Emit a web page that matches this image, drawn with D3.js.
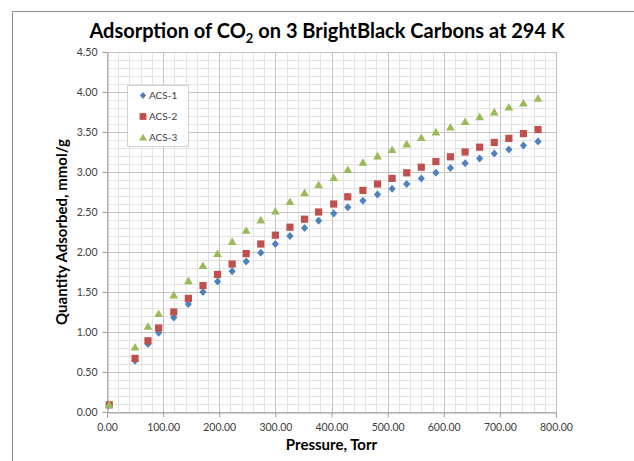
<!DOCTYPE html>
<html>
<head>
<meta charset="utf-8">
<script src="https://cdn.jsdelivr.net/npm/d3@7"></script>
<style>
  html, body { margin: 0; padding: 0; background: #fff; }
  svg { display: block; }
</style>
</head>
<body>
<svg id="chart" width="634" height="461"></svg>
<script>
// ---- data ----
const seriesNames = ["ACS-1", "ACS-2", "ACS-3"];
const pressure = [4, 50, 73, 92, 119, 145, 171, 197, 223, 248, 274, 300, 326, 352, 377, 404, 429, 456, 482, 508, 534, 560, 586, 612, 638, 664, 690, 716, 742, 768];
const acs1 = [0.09, 0.64, 0.85, 0.99, 1.18, 1.35, 1.50, 1.63, 1.76, 1.88, 1.99, 2.10, 2.20, 2.30, 2.39, 2.48, 2.56, 2.64, 2.72, 2.79, 2.85, 2.92, 2.99, 3.05, 3.11, 3.17, 3.23, 3.28, 3.33, 3.38];
const acs2 = [0.09, 0.67, 0.89, 1.05, 1.25, 1.42, 1.58, 1.72, 1.85, 1.98, 2.10, 2.21, 2.31, 2.41, 2.50, 2.60, 2.69, 2.77, 2.85, 2.92, 2.99, 3.06, 3.13, 3.19, 3.25, 3.31, 3.37, 3.42, 3.48, 3.53];
const acs3 = [0.09, 0.81, 1.07, 1.23, 1.46, 1.64, 1.83, 1.98, 2.13, 2.27, 2.40, 2.51, 2.63, 2.74, 2.84, 2.93, 3.03, 3.12, 3.20, 3.28, 3.35, 3.43, 3.50, 3.56, 3.63, 3.69, 3.75, 3.81, 3.86, 3.92];
const xTicks = [0, 100, 200, 300, 400, 500, 600, 700, 800];
const yTicks = [0, 0.5, 1.0, 1.5, 2.0, 2.5, 3.0, 3.5, 4.0, 4.5];

// ---- layout ----
const W = 634, H = 461;
const plot = { left: 107, top: 52, right: 556, bottom: 412 };
const colors = ["#4F81BD", "#C0504D", "#9BBB59"];
const font = "Lato, 'Open Sans', 'Liberation Sans', sans-serif";

const svg = d3.select("#chart");
const x = d3.scaleLinear().domain([0, 800]).range([plot.left, plot.right]);
const y = d3.scaleLinear().domain([0, 4.5]).range([plot.bottom, plot.top]);

// outer frame (left + top visible)
svg.append("path")
  .attr("d", `M12.5,${H} L12.5,11.5 L${W},11.5`)
  .attr("fill", "none").attr("stroke", "#8c8c8c").attr("stroke-width", 1);

// minor grid
const g = svg.append("g");
const xMinor = d3.range(0, 801, 20).filter(v => v % 100 !== 0);
const yMinor = d3.range(0, 46, 1).map(v => v / 10).filter(v => Math.round(v * 10) % 5 !== 0);
g.selectAll(".xm").data(xMinor).join("line")
  .attr("x1", d => Math.round(x(d)) + 0.5).attr("x2", d => Math.round(x(d)) + 0.5)
  .attr("y1", plot.top).attr("y2", plot.bottom)
  .attr("stroke", "#e3e3e3").attr("stroke-width", 1);
g.selectAll(".ym").data(yMinor).join("line")
  .attr("y1", d => Math.round(y(d)) + 0.5).attr("y2", d => Math.round(y(d)) + 0.5)
  .attr("x1", plot.left).attr("x2", plot.right)
  .attr("stroke", "#e3e3e3").attr("stroke-width", 1);

// major grid
g.selectAll(".xM").data(xTicks).join("line")
  .attr("x1", d => Math.round(x(d)) + 0.5).attr("x2", d => Math.round(x(d)) + 0.5)
  .attr("y1", plot.top).attr("y2", plot.bottom)
  .attr("stroke", "#c4c4c4").attr("stroke-width", 1);
g.selectAll(".yM").data(yTicks).join("line")
  .attr("y1", d => Math.round(y(d)) + 0.5).attr("y2", d => Math.round(y(d)) + 0.5)
  .attr("x1", plot.left).attr("x2", plot.right)
  .attr("stroke", "#c4c4c4").attr("stroke-width", 1);

// axes
const xAxis = d3.axisBottom(x).tickValues(xTicks).tickFormat(d3.format(".2f")).tickSize(5).tickPadding(6);
const yAxis = d3.axisLeft(y).tickValues(yTicks).tickFormat(d3.format(".2f")).tickSize(5).tickPadding(5);
const gx = svg.append("g").attr("transform", `translate(0,${plot.bottom + 0.5})`).call(xAxis);
const gy = svg.append("g").attr("transform", `translate(${plot.left + 0.5},0)`).call(yAxis);
[gx, gy].forEach(a => {
  a.select(".domain").attr("stroke", "#a0a0a0");
  a.selectAll(".tick line").attr("stroke", "#a0a0a0");
  a.selectAll(".tick text").attr("fill", "#404040").style("font-family", font).style("font-size", "10.5px");
});

// markers
const diamond = s => `M0,${-s} L${s * 0.9},0 L0,${s} L${-s * 0.9},0 Z`;
const square = s => `M${-s},${-s} H${s} V${s} H${-s} Z`;
const triangle = s => `M0,${-s * 1.05} L${s * 1.1},${s * 0.85} L${-s * 1.1},${s * 0.85} Z`;
const shapes = [() => diamond(4), () => square(3.6), () => triangle(4)];
const values = [acs1, acs2, acs3];

values.forEach((vals, si) => {
  svg.append("g").selectAll("path").data(pressure.map((p, i) => [p, vals[i]])).join("path")
    .attr("transform", d => `translate(${x(d[0])},${y(d[1])})`)
    .attr("d", shapes[si]())
    .attr("fill", colors[si]);
});

// legend
const lg = svg.append("g");
lg.append("rect").attr("x", 127.5).attr("y", 85.5).attr("width", 61).attr("height", 61)
  .attr("fill", "#fff").attr("stroke", "#d0d0d0");
seriesNames.forEach((n, i) => {
  const cy = 95.5 + i * 21;
  lg.append("path").attr("transform", `translate(143,${cy})`)
    .attr("d", i === 0 ? diamond(3.5) : i === 1 ? square(3.4) : triangle(3.6))
    .attr("fill", colors[i]);
  lg.append("text").attr("x", 149).attr("y", cy + 3.5).text(n)
    .attr("fill", "#404040").style("font-family", font).style("font-size", "10px");
});

// title
const title = svg.append("text").attr("x", 327).attr("y", 38).attr("text-anchor", "middle")
  .style("font-family", font).style("font-weight", "bold").style("font-size", "20px").attr("fill", "#000");
title.append("tspan").text("Adsorption of CO");
title.append("tspan").text("2").attr("dy", 5).style("font-size", "13px");
title.append("tspan").text(" on 3 BrightBlack Carbons at 294 K").attr("dy", -5);

// axis titles
svg.append("text").attr("x", 331.5).attr("y", 450).attr("text-anchor", "middle")
  .style("font-family", font).style("font-weight", "bold").style("font-size", "15px")
  .text("Pressure, Torr");
svg.append("text").attr("transform", `translate(67,232) rotate(-90)`).attr("text-anchor", "middle")
  .style("font-family", font).style("font-weight", "bold").style("font-size", "15px")
  .text("Quantity Adsorbed, mmol/g");
</script>
</body>
</html>
